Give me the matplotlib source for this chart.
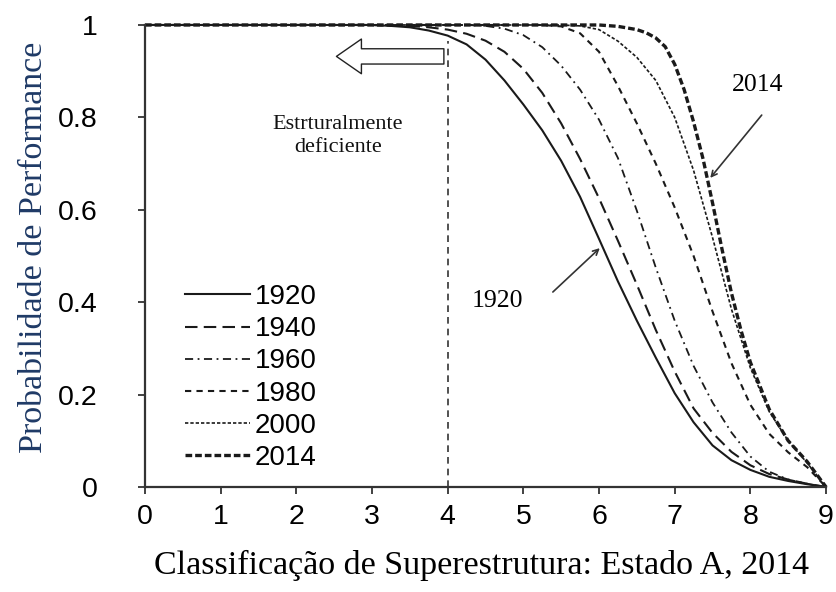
import matplotlib
matplotlib.use("Agg")
import matplotlib.pyplot as plt

# Classification grid (superstructure rating)
rating = [0, 1, 2, 3, 3.25, 3.5, 3.75, 4, 4.25, 4.5, 4.75, 5, 5.25, 5.5, 5.75,
          6, 6.25, 6.5, 6.75, 7, 7.25, 7.5, 7.75, 8, 8.25, 8.5, 8.75, 9]

# Probability of performance by construction year
p1920 = [1, 1, 1, 1, 0.998, 0.995, 0.988, 0.977, 0.958, 0.925, 0.88, 0.828, 0.772, 0.706, 0.628,
         0.537, 0.445, 0.36, 0.28, 0.203, 0.14, 0.09, 0.058, 0.037, 0.022, 0.013, 0.006, 0.0]
p1940 = [1, 1, 1, 1, 0.999, 0.998, 0.995, 0.99, 0.981, 0.966, 0.942, 0.905, 0.853, 0.787, 0.71,
         0.625, 0.533, 0.438, 0.34, 0.25, 0.17, 0.117, 0.076, 0.047, 0.028, 0.016, 0.007, 0.0]
p1960 = [1, 1, 1, 1, 1, 1, 1, 1, 1, 0.998, 0.992, 0.978, 0.952, 0.912, 0.86,
         0.795, 0.712, 0.598, 0.475, 0.36, 0.262, 0.183, 0.118, 0.066, 0.033, 0.016, 0.007, 0.0]
p1980 = [1, 1, 1, 1, 1, 1, 1, 1, 1, 1, 1, 1, 1, 0.997, 0.982,
         0.942, 0.868, 0.787, 0.7, 0.605, 0.5, 0.38, 0.268, 0.178, 0.115, 0.075, 0.043, 0.0]
p2000 = [1, 1, 1, 1, 1, 1, 1, 1, 1, 1, 1, 1, 1, 1, 0.998,
         0.99, 0.965, 0.93, 0.88, 0.8, 0.685, 0.54, 0.385, 0.258, 0.163, 0.1, 0.052, 0.0]

# The 2014 curve bends sharply, so it is read on a finer grid
rating_2014 = [0, 1, 2, 3, 4, 5, 5.5, 6, 6.25, 6.5, 6.625, 6.75, 6.875, 7, 7.125, 7.25,
               7.375, 7.5, 7.625, 7.75, 7.875, 8, 8.25, 8.5, 8.75, 9]
p2014 = [1, 1, 1, 1, 1, 1, 1, 1, 0.997, 0.99, 0.983, 0.972, 0.953, 0.915, 0.86, 0.79,
         0.71, 0.615, 0.515, 0.42, 0.34, 0.27, 0.168, 0.1, 0.055, 0.0]

series = [("1920", rating, p1920), ("1940", rating, p1940), ("1960", rating, p1960),
          ("1980", rating, p1980), ("2000", rating, p2000), ("2014", rating_2014, p2014)]

styles = {
    "1920": dict(lw=1.5, ls="-"),
    "1940": dict(lw=1.5, dashes=(6, 3)),
    "1960": dict(lw=1.3, dashes=(4.5, 2.5, 1, 2.5)),
    "1980": dict(lw=1.5, dashes=(3, 2.5)),
    "2000": dict(lw=1.2, dashes=(2, 1.2)),
    "2014": dict(lw=2.4, dashes=(2, 0.9)),
}

x_ticks = list(range(0, 10))
y_ticks = [0, 0.2, 0.4, 0.6, 0.8, 1]
y_tick_labels = ["0", "0.2", "0.4", "0.6", "0.8", "1"]

ink = "#1a1a1a"
serif = "Liberation Serif"
sans = "Liberation Sans"

fig = plt.figure(figsize=(8.37, 5.92), dpi=100)
ax = fig.add_axes([0.1732, 0.1774, 0.8137, 0.7804])

for name, xs, vals in series:
    ax.plot(xs, vals, color=ink, label=name, clip_on=False, **styles[name])

# Structurally deficient threshold
ax.plot([4, 4], [0, 0.965], color="#333333", lw=1.2, dashes=(4, 3))
ax.annotate("", xy=(2.53, 0.932), xytext=(3.95, 0.932),
            arrowprops=dict(arrowstyle="simple,head_length=0.9,head_width=1.25,tail_width=0.55",
                            fc="white", ec="#222222", lw=1.0, shrinkA=0, shrinkB=0,
                            mutation_scale=20))
ax.text(2.55, 0.76, "Estrturalmente\ndeficiente", ha="center", va="center",
        family=serif, fontsize=16, linespacing=1.25, color="#111111")

# Year call-outs
ax.text(8.1, 0.87, "2014", ha="center", va="center", family=serif, fontsize=18.5)
ax.annotate("", xy=(7.47, 0.669), xytext=(8.15, 0.805),
            arrowprops=dict(arrowstyle="->", color="#333333", lw=1.2,
                            shrinkA=0, shrinkB=0))
ax.text(4.66, 0.403, "1920", ha="center", va="center", family=serif, fontsize=18.5)
ax.annotate("", xy=(6.01, 0.517), xytext=(5.39, 0.422),
            arrowprops=dict(arrowstyle="->", color="#333333", lw=1.2,
                            shrinkA=0, shrinkB=0))

ax.set_xlim(0, 9)
ax.set_ylim(0, 1)
ax.set_xticks(x_ticks)
ax.set_xticklabels([str(t) for t in x_ticks])
ax.set_yticks(y_ticks)
ax.set_yticklabels(y_tick_labels)
for lab in ax.get_xticklabels() + ax.get_yticklabels():
    lab.set_family(sans)
    lab.set_fontsize(20.5)
ax.tick_params(direction="out", length=5, width=1.3, color="#333333")
ax.tick_params(axis="x", pad=7)
ax.tick_params(axis="y", pad=29)

for side in ("top", "right"):
    ax.spines[side].set_visible(False)
for side in ("left", "bottom"):
    ax.spines[side].set_linewidth(1.6)
    ax.spines[side].set_color("#333333")

ax.set_xlabel("Classificação de Superestrutura: Estado A, 2014",
              family=serif, fontsize=24.5)
ax.xaxis.set_label_coords(0.4934, -0.136)
ax.set_ylabel("Probabilidade de Performance", family=serif,
              fontsize=24.5, color="#1f3a66")
ax.yaxis.set_label_coords(-0.141, 0.518)

leg = ax.legend(loc="upper left", bbox_to_anchor=(0.043, 0.463), frameon=False,
                prop={"family": sans, "size": 20},
                handlelength=2.34, handletextpad=0.15, labelspacing=0.22,
                borderaxespad=0)

fig.savefig("out.png", dpi=100)
